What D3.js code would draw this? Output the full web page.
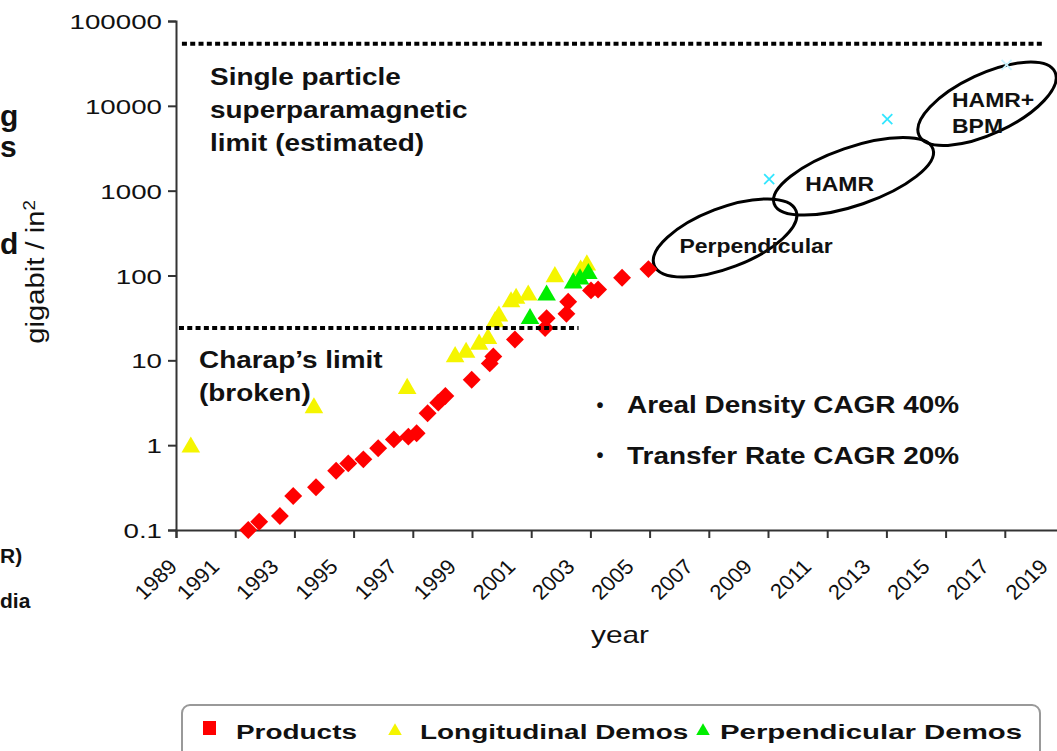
<!DOCTYPE html>
<html><head><meta charset="utf-8">
<script src="https://cdn.jsdelivr.net/npm/d3@7"></script>
<style>
html,body{margin:0;padding:0;background:#fff;}
svg{display:block;font-family:"Liberation Sans",Arial,sans-serif;}
</style></head><body>
<svg id="chart" width="1057" height="751"></svg>
<script>
// ---------- data ----------
const productYears  = [1991.44,1991.81,1992.51,1992.96,1993.73,1994.41,1994.82,1995.33,1995.83,1996.36,1996.85,1997.13,1997.5,1997.86,1998.1,1998.99,1999.6,1999.72,2000.45,2001.47,2001.52,2002.19,2002.25,2003.02,2003.26,2004.07,2004.96];
const productValues = [0.1,0.125,0.146,0.252,0.319,0.5,0.61,0.68,0.92,1.17,1.26,1.38,2.38,3.17,3.8,5.9,9.2,11.1,17.6,24,31.3,35.3,49,66.7,68.5,94,119];
const longYears  = [1989.5,1993.66,1996.81,1998.43,1998.8,1999.24,1999.54,1999.78,1999.91,2000.32,2000.49,2000.9,2001.8,2002.67,2002.88];
const longValues = [1.0,2.9,4.9,11.6,13.1,16.3,19,30,35,51.5,56.6,61.8,102,122,140];
const perpYears  = [2000.96,2001.52,2002.42,2002.65,2002.93];
const perpValues = [32.7,61.8,86,96,111];
const roadmapYears  = [2009.04,2013.03,2017.06];
const roadmapValues = [1370,6970,30400];
const techNames  = ["Perpendicular","HAMR","HAMR+BPM"];
const techYears  = [2007.55,2011.89,2016.4];
const techValues = [277,1476,10570];
const limitNames  = ["superparamagnetic","charap"];
const limitValues = [54000,24];
const limitStart  = [1989.2,1989.1];
const limitEnd    = [2018.3,2002.6];
const xTickYears  = [1989,1991,1993,1995,1997,1999,2001,2003,2005,2007,2009,2011,2013,2015,2017,2019];
const yTickValues = [0.1,1,10,100,1000,10000,100000];
const yTickLabels = ["0.1","1","10","100","1000","10000","100000"];
const legendNames = ["Products","Longitudinal Demos","Perpendicular Demos"];

// ---------- setup ----------
const svg = d3.select("#chart");
const x = d3.scaleLinear().domain([1989,2019]).range([176,176+30*29.6]);
const y = d3.scaleLog().domain([0.1,100000]).range([530,21]);

function txt(parent,tx,ty,str,o){
  const t = parent.append("text")
    .attr("transform",`translate(${tx},${ty}) scale(${o.sx||1},1)${o.rot?` rotate(${o.rot})`:""}`)
    .attr("text-anchor",o.anchor||"start")
    .style("font-size",o.size+"px")
    .style("font-weight",o.bold?"bold":"normal")
    .attr("fill","#111");
  if(str!==null) t.text(str);
  return t;
}

// left-edge fragments of surrounding slide text
const frag = svg.append("g");
txt(frag,0,126,"g",{size:30,bold:true,sx:1.0});
txt(frag,0,157,"s",{size:30,bold:true,sx:1.0});
txt(frag,0,254,"d",{size:30,bold:true,sx:1.0});
txt(frag,0,563,"R)",{size:21,bold:true,sx:1.0});
txt(frag,0,608,"dia",{size:20,bold:true,sx:1.05});

// ---------- axes ----------
const yAxis = svg.append("g").attr("transform","translate(176,0)")
  .call(d3.axisLeft(y).tickValues(yTickValues).tickSize(8).tickFormat((d,i)=>yTickLabels[i]));
yAxis.selectAll("path,line").attr("stroke","#333").attr("stroke-width",2);
yAxis.selectAll("text").attr("x",0).attr("dy","0.36em").attr("fill","#111")
  .attr("transform","translate(-14,0) scale(1.32,1)")
  .style("font-size","21px").style("font-family","'Liberation Sans',Arial,sans-serif");

const xAxis = svg.append("g").attr("transform","translate(0,530)")
  .call(d3.axisBottom(x).tickValues(xTickYears).tickSize(8).tickFormat(d=>String(d)));
xAxis.selectAll("path,line").attr("stroke","#333").attr("stroke-width",2);
xAxis.selectAll("text").attr("x",0).attr("y",0).attr("dy",0).attr("fill","#111")
  .attr("text-anchor","end")
  .attr("transform",d=>`translate(${d===xTickYears[0]?2:-15},38) scale(1.05,1) rotate(-45)`)
  .style("font-size","21px").style("font-family","'Liberation Sans',Arial,sans-serif");

// axis titles
const yt = txt(svg,44,272,null,{size:25,anchor:"middle",rot:-90});
yt.attr("transform","translate(44,272) rotate(-90) scale(1.17,1)");
yt.append("tspan").text("gigabit / in");
yt.append("tspan").attr("baseline-shift","super").style("font-size","16px").text("2");
txt(svg,620,643,"year",{size:23,anchor:"middle",sx:1.3});

// ---------- technology ellipses ----------
const ellR = {"Perpendicular":[76,30,-21],"HAMR":[84,29,-19],"HAMR+BPM":[75,30,-25]};
const eg = svg.append("g");
techNames.forEach((n,i)=>{
  const [rx,ry,ang] = ellR[n];
  eg.append("ellipse")
    .attr("transform",`translate(${x(techYears[i])},${y(techValues[i])}) rotate(${ang})`)
    .attr("rx",rx).attr("ry",ry).attr("fill","none").attr("stroke","#000").attr("stroke-width",3);
});
const tg = svg.append("g");
txt(tg,x(techYears[0])+31,y(techValues[0])+15,"Perpendicular",{size:20,bold:true,anchor:"middle",sx:1.15});
txt(tg,x(techYears[1])-14,y(techValues[1])+15,"HAMR",{size:20.5,bold:true,anchor:"middle",sx:1.12});
txt(tg,x(techYears[2])-35,y(techValues[2])+3,"HAMR+",{size:20.5,bold:true,sx:1.12});
txt(tg,x(techYears[2])-35,y(techValues[2])+29,"BPM",{size:20.5,bold:true,sx:1.12});

// ---------- points ----------
const pts = svg.append("g");
pts.selectAll("path.prod").data(productYears).enter().append("path")
  .attr("d",d3.symbol().type(d3.symbolSquare).size(160))
  .attr("transform",(d,i)=>`translate(${x(d)},${y(productValues[i])}) rotate(45)`)
  .attr("fill","#ff0000");
pts.selectAll("path.long").data(longYears).enter().append("path")
  .attr("d",d3.symbol().type(d3.symbolTriangle).size(150))
  .attr("transform",(d,i)=>`translate(${x(d)},${y(longValues[i])+2})`)
  .attr("fill","#f5f500");
pts.selectAll("path.perp").data(perpYears).enter().append("path")
  .attr("d",d3.symbol().type(d3.symbolTriangle).size(150))
  .attr("transform",(d,i)=>`translate(${x(d)},${y(perpValues[i])+2})`)
  .attr("fill","#00ee00");
pts.selectAll("path.road").data(roadmapYears).enter().append("path")
  .attr("d","M-5,-5L5,5M-5,5L5,-5")
  .attr("transform",(d,i)=>`translate(${x(d)},${y(roadmapValues[i])})`)
  .attr("fill","none").attr("stroke",(d,i)=>i===2?"#c8f4ff":"#33e6ff").attr("stroke-width",1.8);

// ---------- limit lines ----------
limitNames.forEach((n,i)=>{
  svg.append("line")
    .attr("x1",x(limitStart[i])).attr("x2",x(limitEnd[i]))
    .attr("y1",y(limitValues[i])).attr("y2",y(limitValues[i]))
    .attr("stroke","#000").attr("stroke-width",4).attr("stroke-dasharray","5,3.3");
});

// ---------- annotation texts ----------
const at = svg.append("g");
const aOpt = {size:24.5,bold:true,sx:1.14};
txt(at,210,85,"Single particle",aOpt);
txt(at,210,118,"superparamagnetic",aOpt);
txt(at,210,151,"limit (estimated)",aOpt);
txt(at,199,368,"Charap\u2019s limit",aOpt);
txt(at,199,401,"(broken)",aOpt);
txt(at,600,412,"\u2022",{size:20,bold:true,anchor:"middle"});
txt(at,627,413,"Areal Density CAGR 40%",aOpt);
txt(at,600,462,"\u2022",{size:20,bold:true,anchor:"middle"});
txt(at,627,464,"Transfer Rate CAGR 20%",aOpt);

// ---------- legend ----------
const lg = svg.append("g");
lg.append("rect").attr("x",182).attr("y",705).attr("width",858).attr("height",70).attr("rx",8)
  .attr("fill","#fff").attr("stroke","#999").attr("stroke-width",2);
const lOpt = {size:21,bold:true,sx:1.33};
lg.append("rect").attr("x",203).attr("y",721).attr("width",13).attr("height",14).attr("fill","#ff0000");
txt(lg,236,739,legendNames[0],lOpt);
lg.append("path").attr("d",d3.symbol().type(d3.symbolTriangle).size(80)).attr("transform","translate(395,731)").attr("fill","#f5f500");
txt(lg,420,739,legendNames[1],lOpt);
lg.append("path").attr("d",d3.symbol().type(d3.symbolTriangle).size(80)).attr("transform","translate(703,731)").attr("fill","#00ee00");
txt(lg,720,739,legendNames[2],{size:21,bold:true,sx:1.4});
</script>
</body></html>
